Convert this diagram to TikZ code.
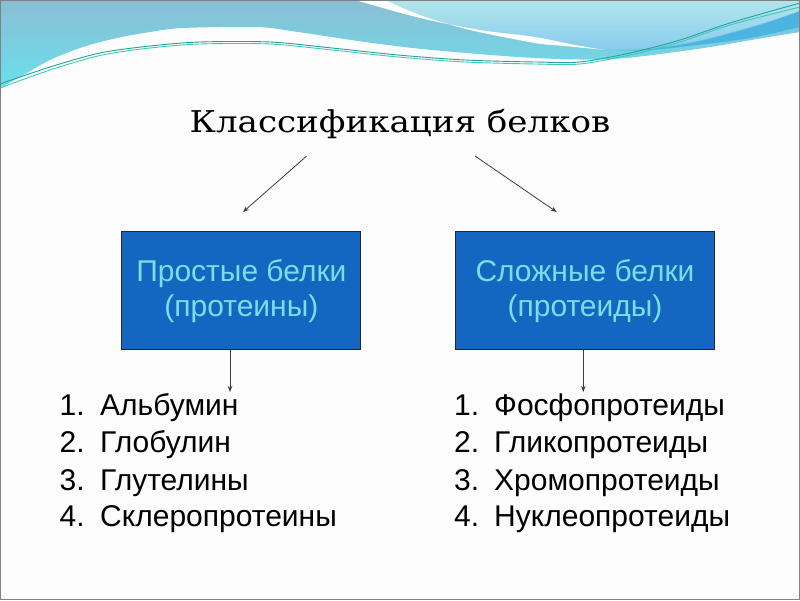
\documentclass[tikz,border=0pt]{standalone}
\usepackage{fontspec}
\setmainfont{Liberation Sans}
\newfontfamily\titlefont{DejaVu Serif}
\usetikzlibrary{arrows.meta}
\definecolor{boxblue}{RGB}{20,102,192}
\definecolor{boxtext}{RGB}{122,222,232}
\definecolor{bandtop}{RGB}{138,190,212}
\definecolor{bandbot}{RGB}{105,224,236}
\definecolor{lighttop}{RGB}{178,230,236}
\definecolor{lightbot}{RGB}{136,203,238}
\definecolor{darkswoosh}{RGB}{76,180,224}
\definecolor{tealA}{RGB}{40,158,168}
\definecolor{tealB}{RGB}{60,205,176}
\definecolor{arrowgray}{RGB}{60,60,60}
\definecolor{slidebg}{RGB}{252,252,252}
\tikzset{
  catbox/.style={draw=black!85, line width=0.8pt, fill=boxblue, text=boxtext,
    minimum width=239pt, minimum height=118pt, inner sep=0pt, align=center,
    font=\fontsize{30}{35}\selectfont},
  arr/.style={draw=arrowgray, line width=0.8pt, -{Stealth[length=6pt,width=4.5pt]}},
  item/.style={anchor=base west, inner sep=0pt, font=\fontsize{30}{36}\selectfont, text=black},
  titlestyle/.style={anchor=base, inner sep=0pt, font=\titlefont\fontsize{30}{36}\selectfont}
}
\begin{document}
\begin{tikzpicture}[x=1pt,y=1pt]
\useasboundingbox (0,0) rectangle (800,600);
\fill[slidebg] (0,0) rectangle (800,600);
% main band
\shade[top color=bandtop, bottom color=bandbot]
  (0,600) -- (800,600) -- (800,568) -- plot[smooth] coordinates {(800,568) (763,562) (697,551) (613,541) (535,542) (432,550) (365,558) (298,568) (257,573) (183,572) (150,568) (117,562) (83,553) (50,540) (20,523) (0,512)} -- cycle;
% light region upper right
\shade[top color=lighttop, bottom color=lightbot]
  (385,600) -- plot[smooth] coordinates {(385,600) (420,585) (470,570) (535,557) (565,554) (600,551) (640,551) (700,560) (760,576) (800,589)} -- (800,600) -- cycle;
% dark swoosh
\fill[darkswoosh]
  plot[smooth] coordinates {(600,550) (650,551) (700,559) (760,575) (800,589)} -- (800,573) -- plot[smooth] coordinates {(800,573) (750,562) (697,555) (650,550) (600,550)} -- cycle;
% white swoosh
\fill[white]
  plot[smooth] coordinates {(355,600) (420,582) (480,570) (535,563) (575,555) (605,550)} -- plot[smooth] coordinates {(605,550) (565,554) (535,557) (470,570) (420,585) (385,600)} -- cycle;
% teal lines
\draw[tealA, line width=0.9pt] plot[smooth] coordinates {(0,516) (50,533) (100,547) (150,554) (200,558) (270,558) (332,552) (398,545) (465,540) (535,538) (580,538) (630,547) (680,560) (730,577) (800,597)};
\draw[tealB, line width=0.9pt] plot[smooth] coordinates {(0,512) (50,530) (100,544.5) (150,552) (200,556) (270,556) (332,550) (398,543) (465,538) (535,536) (580,536) (630,545) (680,558) (730,575) (800,593)};
% frame
\draw[gray, line width=1pt] (0.5,0.5) rectangle (799.5,599.5);

% title
\node[titlestyle] (title) at (400,467) {\scalebox{1.136}[1]{Классификация белков}};
\coordinate (tA) at (306.7,444);
\coordinate (tB) at (475,444);

% boxes
\node[catbox] (lbox) at (241.35,309.15) {Простые белки\\(протеины)};
\node[catbox, minimum width=258.6pt] (rbox) at (585,309.15) {Сложные белки\\(протеиды)};

\coordinate (lin) at (243,388);
\coordinate (rin) at (556.7,388);
\draw[arr] (tA) -- (lin);
\draw[arr] (tB) -- (rin);

\coordinate (llist) at (230,208);
\coordinate (rlist) at (583.3,208);
\draw[arr] ([xshift=-11.35pt]lbox.south) -- (llist);
\draw[arr] ([xshift=-1.7pt]rbox.south) -- (rlist);

% left list
\node[item] (ln1) at (59.5,185) {1.};
\node[item] (lt1) at (100,185) {Альбумин};
\node[item] (ln2) at (59.5,147.3) {2.};
\node[item] (lt2) at (100,147.3) {Глобулин};
\node[item] (ln3) at (59.5,110) {3.};
\node[item] (lt3) at (100,110) {Глутелины};
\node[item] (ln4) at (59.5,73.3) {4.};
\node[item] (lt4) at (100,73.3) {Склеропротеины};
% right list
\node[item] (rn1) at (454,185) {1.};
\node[item] (rt1) at (494,185) {Фосфопротеиды};
\node[item] (rn2) at (454,147.3) {2.};
\node[item] (rt2) at (494,147.3) {Гликопротеиды};
\node[item] (rn3) at (454,110) {3.};
\node[item] (rt3) at (494,110) {Хромопротеиды};
\node[item] (rn4) at (454,73.3) {4.};
\node[item] (rt4) at (494,73.3) {Нуклеопротеиды};
\end{tikzpicture}
\end{document}
